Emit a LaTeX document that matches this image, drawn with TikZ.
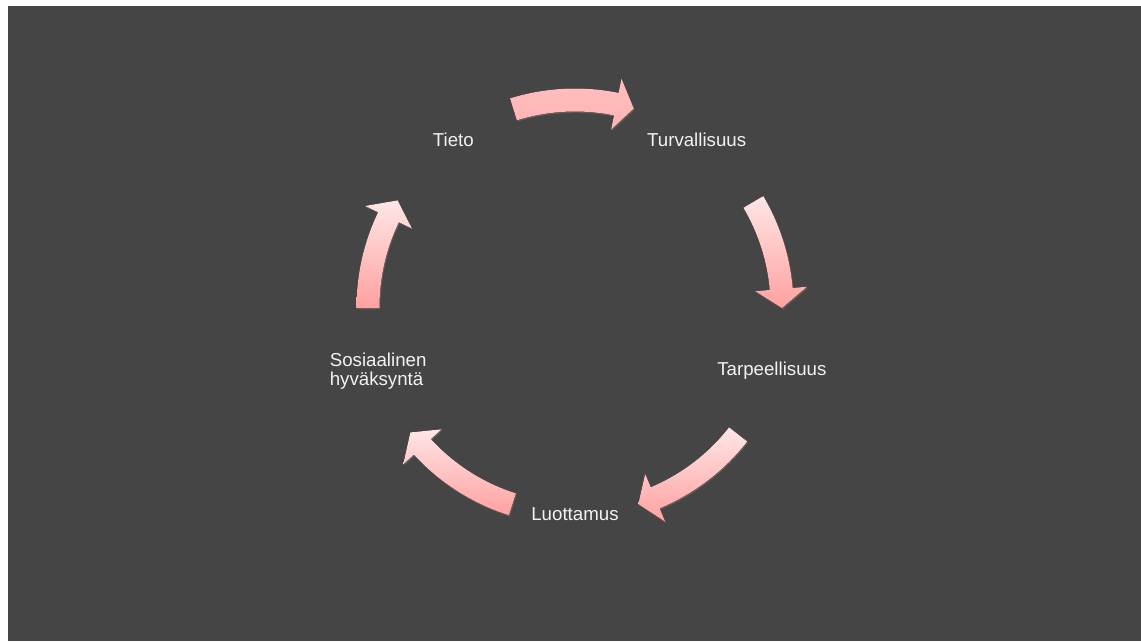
\documentclass[tikz,border=0pt]{standalone}
\usepackage{fontspec}
\setmainfont{Liberation Sans}
\usepackage{tikz}
\usetikzlibrary{calc,shadows}
\definecolor{slide}{HTML}{454545}
\definecolor{cycleLight}{HTML}{FFE6E6}
\definecolor{cycleDark}{HTML}{FFA0A0}
\definecolor{stagetext}{HTML}{F2F2F2}

% curved block arrow round the cycle centre: tail angle, head base angle, tip angle
\newcommand{\cyclearrow}[4][]{%
  \fill[cyc,#1] (#2:218.5pt) arc[start angle=#2, end angle=#3, radius=218.5pt]
    -- (#3:233pt) -- (#4:207pt) -- (#3:181pt) -- (#3:195.5pt)
    arc[start angle=#3, end angle=#2, radius=195.5pt] -- cycle;}

\begin{document}
\begin{tikzpicture}[
  x=1pt, y=1pt,
  stage/.style={text=stagetext, inner sep=0pt, align=left, font=\fontsize{18.7}{19.5}\selectfont},
  cyc/.style={top color=cycleLight, bottom color=cycleDark,
    drop shadow={opacity=0.45, shadow xshift=0.8pt, shadow yshift=-1.2pt}}]
\useasboundingbox (0,0) rectangle (1141,641);
\fill[white] (0,0) rectangle (1141,641);
\fill[slide] (8,0) rectangle (1141,635);
\coordinate (ctr) at (575,334);
% stages
\node[stage] (tieto) at ($(ctr)+(126:207)$) {Tieto};
\node[stage] (turva) at ($(ctr)+(54:207)$) {Turvallisuus};
\node[stage] (tarve) at ($(ctr)+(-18:207)$) {Tarpeellisuus};
\node[stage] (luotto) at ($(ctr)+(270:207)$) {Luottamus};
\node[stage] (sosiaali) at ($(ctr)+(198:207)$) {Sosiaalinen\\hyväksyntä};
% arrows
\begin{scope}[shift={(ctr)}]
\cyclearrow[top color=cycleLight!45!cycleDark, bottom color=cycleLight!25!cycleDark]{107.3}{78.5}{73.5}
\cyclearrow{30.5}{5}{-0.3}
\cyclearrow{-38}{-67.2}{-72.2}
\cyclearrow{252.4}{222.5}{217.3}
\cyclearrow{180.3}{154.3}{149}
\end{scope}
\end{tikzpicture}
\end{document}
